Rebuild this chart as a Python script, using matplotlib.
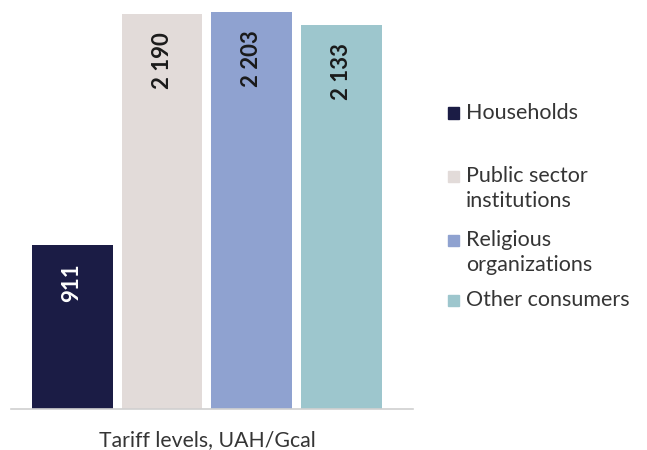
import matplotlib.pyplot as plt
from matplotlib.patches import Rectangle

# tariff levels by consumer group, UAH/Gcal
categories = ["Households", "Public sector\ninstitutions", "Religious\norganizations", "Other consumers"]
values = [911, 2190, 2203, 2133]
value_labels = ["911", "2 190", "2 203", "2 133"]
colors = ["#1b1c45", "#e2dbd9", "#8fa2d0", "#9dc6cd"]
label_colors = ["white", "#1a1a1a", "#1a1a1a", "#1a1a1a"]

plt.rcParams['font.family'] = ['Lato', 'DejaVu Sans']
text_color = "#353535"

fig = plt.figure(figsize=(6.47, 4.5), dpi=100)
ax = fig.add_axes([0.017, 0.091, 0.621, 0.909])

xs = list(range(len(values)))
bars = ax.bar(xs, values, width=0.9, color=colors)

for bar, lab, c in zip(bars, value_labels, label_colors):
    ax.annotate(lab, (bar.get_x() + bar.get_width() / 2, bar.get_height()),
                xytext=(0, -13), textcoords="offset points",
                rotation=90, ha="center", va="top",
                fontsize=16, fontweight="bold", color=c)

ax.set_xlim(-0.68, 3.79)
ax.set_ylim(0, 2270)
ax.set_xticks([])
ax.set_yticks([])
for side in ["top", "right", "left"]:
    ax.spines[side].set_visible(False)
ax.spines["bottom"].set_color("#d0d0d0")
ax.spines["bottom"].set_linewidth(1.2)

fig.text(207 / 647, 1 - 440 / 450, "Tariff levels, UAH/Gcal", ha="center", va="center",
         fontsize=15.3, color=text_color)

# hand-placed legend, one row per consumer group
legend_y = [113, 176, 240, 300]  # pixel rows from the top
W, H = 647, 450
for cat, col, py in zip(categories, colors, legend_y):
    yf = 1 - py / H
    fig.patches.append(Rectangle((448 / W, yf - 5.5 / H), 11 / W, 11 / H,
                                 transform=fig.transFigure, color=col))
    fig.text(466 / W, yf + 10 / H, cat, ha="left", va="top", fontsize=15.5,
             color=text_color, linespacing=1.3)

fig.savefig("out.png", dpi=100)
